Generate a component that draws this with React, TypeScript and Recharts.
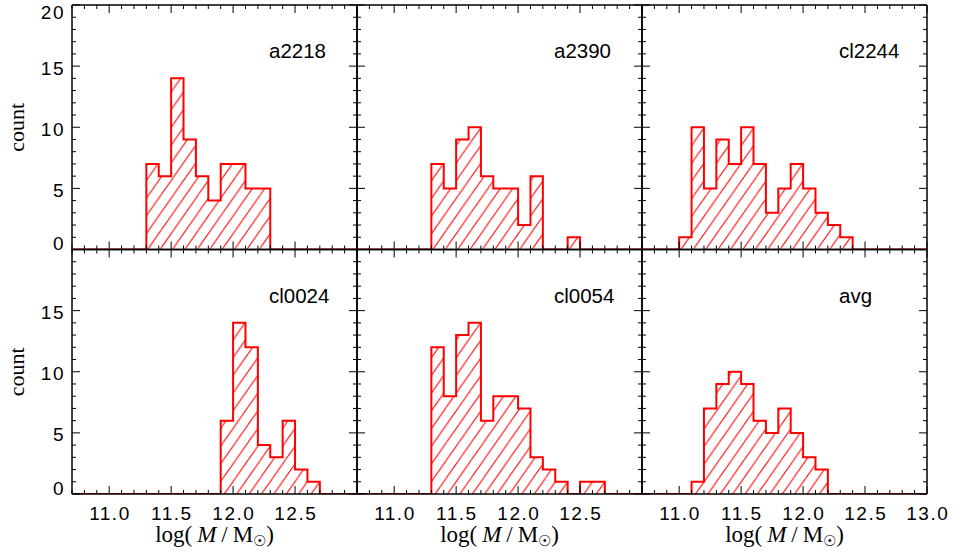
import React from "react";
import { ComposedChart, Area, XAxis, YAxis } from "recharts";

// bin edges of the mass histograms (0.1 dex bins), also the minor x ticks
const binEdges = [
  10.7, 10.8, 10.9, 11.0, 11.1, 11.2, 11.3, 11.4, 11.5, 11.6, 11.7, 11.8,
  11.9, 12.0, 12.1, 12.2, 12.3, 12.4, 12.5, 12.6, 12.7, 12.8, 12.9, 13.0
];

// counts per bin, bin i starts at binEdges[i]
const a2218 = [0, 0, 0, 0, 0, 0, 7, 6, 14, 9, 6, 4, 7, 7, 5, 5, 0, 0, 0, 0, 0, 0, 0];
const a2390 = [0, 0, 0, 0, 0, 0, 7, 5, 9, 10, 6, 5, 5, 2, 6, 0, 0, 1, 0, 0, 0, 0, 0];
const cl2244 = [0, 0, 0, 1, 10, 5, 9, 7, 10, 7, 3, 5, 7, 5, 3, 2, 1, 0, 0, 0, 0, 0, 0];
const cl0024 = [0, 0, 0, 0, 0, 0, 0, 0, 0, 0, 0, 0, 6, 14, 12, 4, 3, 6, 2, 1, 0, 0, 0];
const cl0054 = [0, 0, 0, 0, 0, 0, 12, 8, 13, 14, 6, 8, 8, 7, 3, 2, 1, 0, 1, 1, 0, 0, 0];
const avg = [0, 0, 0, 0, 1, 7, 9, 10, 9, 6, 5, 7, 5, 3, 2, 0, 0, 0, 0, 0, 0, 0, 0];

const xTickLabels = [11.0, 11.5, 12.0, 12.5, 13.0];
const yTicks = [0, 1, 2, 3, 4, 5, 6, 7, 8, 9, 10, 11, 12, 13, 14, 15, 16, 17, 18, 19, 20];
const yTickLabels = [0, 5, 10, 15, 20];

const panels = [
  { name: "a2218", counts: a2218 },
  { name: "a2390", counts: a2390 },
  { name: "cl2244", counts: cl2244 },
  { name: "cl0024", counts: cl0024 },
  { name: "cl0054", counts: cl0054 },
  { name: "avg", counts: avg }
];

const W = 954;
const H = 554;
const COL_LEFT = [72, 357, 642];
const ROW_TOP = [5, 249.5];
const PW = 285;
const PH = 244.5;
const RED = "#ff0000";
const TICK_FONT = { fontFamily: "Liberation Sans, Arial, sans-serif", fontSize: 19, letterSpacing: 1.5 };
const SERIF = "Liberation Serif, Times New Roman, serif";

const near = (v: number, list: number[]) => list.some((t) => Math.abs(t - v) < 1e-6);
const isMajorX = (v: number) => Math.abs(v * 2 - Math.round(v * 2)) < 1e-6;

const Panel = ({ name, counts, col, row }: { name: string; counts: number[]; col: number; row: number }) => {
  const L = COL_LEFT[col];
  const T = ROW_TOP[row];
  const data = binEdges.map((x, i) => ({ x, count: i < counts.length ? counts[i] : 0 }));
  const hatchId = `hatch-${name}`;

  const bottomTick = (p: any) => {
    const v = p.payload.value;
    const major = isMajorX(v);
    const showLabel = row === 1 && major && near(v, xTickLabels) && (v < 12.95 || col === 2);
    return (
      <g>
        <line x1={p.x} x2={p.x} y1={p.y} y2={p.y - (major ? 8 : 4)} stroke="#000" strokeWidth={1} />
        {showLabel && (
          <text x={p.x + 0.75} y={p.y + 26} textAnchor="middle" fill="#000" {...TICK_FONT}>
            {v.toFixed(1)}
          </text>
        )}
      </g>
    );
  };

  const topTick = (p: any) => {
    const major = isMajorX(p.payload.value);
    return <line x1={p.x} x2={p.x} y1={p.y} y2={p.y + (major ? 8 : 4)} stroke="#000" strokeWidth={1} />;
  };

  const leftTick = (p: any) => {
    const v = p.payload.value;
    const major = v % 5 === 0;
    const showLabel = col === 0 && near(v, yTickLabels) && !(row === 1 && v === 20);
    const dy = v === 0 ? 0.5 : v === 20 ? 13.5 : 8.5;
    return (
      <g>
        <line x1={p.x} x2={p.x + (major ? 8 : 4)} y1={p.y} y2={p.y} stroke="#000" strokeWidth={1} />
        {showLabel && (
          <text x={p.x - 7} y={p.y + dy} textAnchor="end" fill="#000" {...TICK_FONT}>
            {v}
          </text>
        )}
      </g>
    );
  };

  const rightTick = (p: any) => {
    const major = p.payload.value % 5 === 0;
    return <line x1={p.x} x2={p.x - (major ? 8 : 4)} y1={p.y} y2={p.y} stroke="#000" strokeWidth={1} />;
  };

  return (
    <div style={{ position: "absolute", left: 0, top: 0 }}>
      <ComposedChart
        width={W}
        height={H}
        data={data}
        margin={{ left: L - 1, top: T - 1, right: W - L - PW - 1, bottom: H - T - PH - 1 }}
      >
        <defs>
          <pattern id={hatchId} patternUnits="userSpaceOnUse" width={12.4} height={17.7}>
            <line x1={-12.4} y1={17.7} x2={0} y2={0} stroke={RED} strokeWidth={1} />
            <line x1={0} y1={17.7} x2={12.4} y2={0} stroke={RED} strokeWidth={1} />
            <line x1={12.4} y1={17.7} x2={24.8} y2={0} stroke={RED} strokeWidth={1} />
          </pattern>
        </defs>
        <XAxis
          dataKey="x"
          type="number"
          domain={[10.7, 13.0]}
          ticks={binEdges}
          interval={0}
          height={1}
          tickSize={0}
          tickMargin={0}
          tickLine={false}
          tick={bottomTick}
          axisLine={{ stroke: "#000", strokeWidth: 1.5 }}
          allowDataOverflow
        />
        <XAxis
          xAxisId="top"
          orientation="top"
          dataKey="x"
          type="number"
          domain={[10.7, 13.0]}
          ticks={binEdges}
          interval={0}
          height={1}
          tickSize={0}
          tickMargin={0}
          tickLine={false}
          tick={topTick}
          axisLine={{ stroke: "#000", strokeWidth: 1.5 }}
          allowDataOverflow
        />
        <YAxis
          type="number"
          domain={[0, 20]}
          ticks={yTicks}
          interval={0}
          width={1}
          tickSize={0}
          tickMargin={0}
          tickLine={false}
          tick={leftTick}
          axisLine={{ stroke: "#000", strokeWidth: 1.5 }}
          allowDataOverflow
        />
        <YAxis
          yAxisId="right"
          orientation="right"
          type="number"
          domain={[0, 20]}
          ticks={yTicks}
          interval={0}
          width={1}
          tickSize={0}
          tickMargin={0}
          tickLine={false}
          tick={rightTick}
          axisLine={{ stroke: "#000", strokeWidth: 1.5 }}
          allowDataOverflow
        />
        <Area
          dataKey="count"
          type="stepAfter"
          stroke={RED}
          strokeWidth={2}
          fill={`url(#${hatchId})`}
          fillOpacity={1}
          isAnimationActive={false}
          dot={false}
          activeDot={false}
        />
        <text
          x={L + 197}
          y={T + 53}
          fill="#000"
          fontFamily="Liberation Sans, Arial, sans-serif"
          fontSize={20.5}
        >
          {name}
        </text>
        {col === 0 && (
          <text
            x={24}
            y={T + PH / 2}
            transform={`rotate(-90 24 ${T + PH / 2})`}
            textAnchor="middle"
            fill="#000"
            fontFamily={SERIF}
            fontSize={22}
          >
            count
          </text>
        )}
        {row === 1 && (
          <text x={L + PW / 2} y={542} textAnchor="middle" fill="#000" fontFamily={SERIF} fontSize={23}>
            log(
            <tspan dx={5} fontStyle="italic">M</tspan>
            <tspan dx={5}>/</tspan>
            <tspan dx={5}>M</tspan>
            <tspan dy={4} fontSize={15}>☉</tspan>
            <tspan dy={-4}>)</tspan>
          </text>
        )}
      </ComposedChart>
    </div>
  );
};

const App = () => {
  return (
    <div style={{ position: "absolute", left: 0, top: 0, width: W, height: H, background: "#fff" }}>
      {panels.map((p, i) => (
        <Panel key={p.name} name={p.name} counts={p.counts} col={i % 3} row={Math.floor(i / 3)} />
      ))}
    </div>
  );
};

export default App;
